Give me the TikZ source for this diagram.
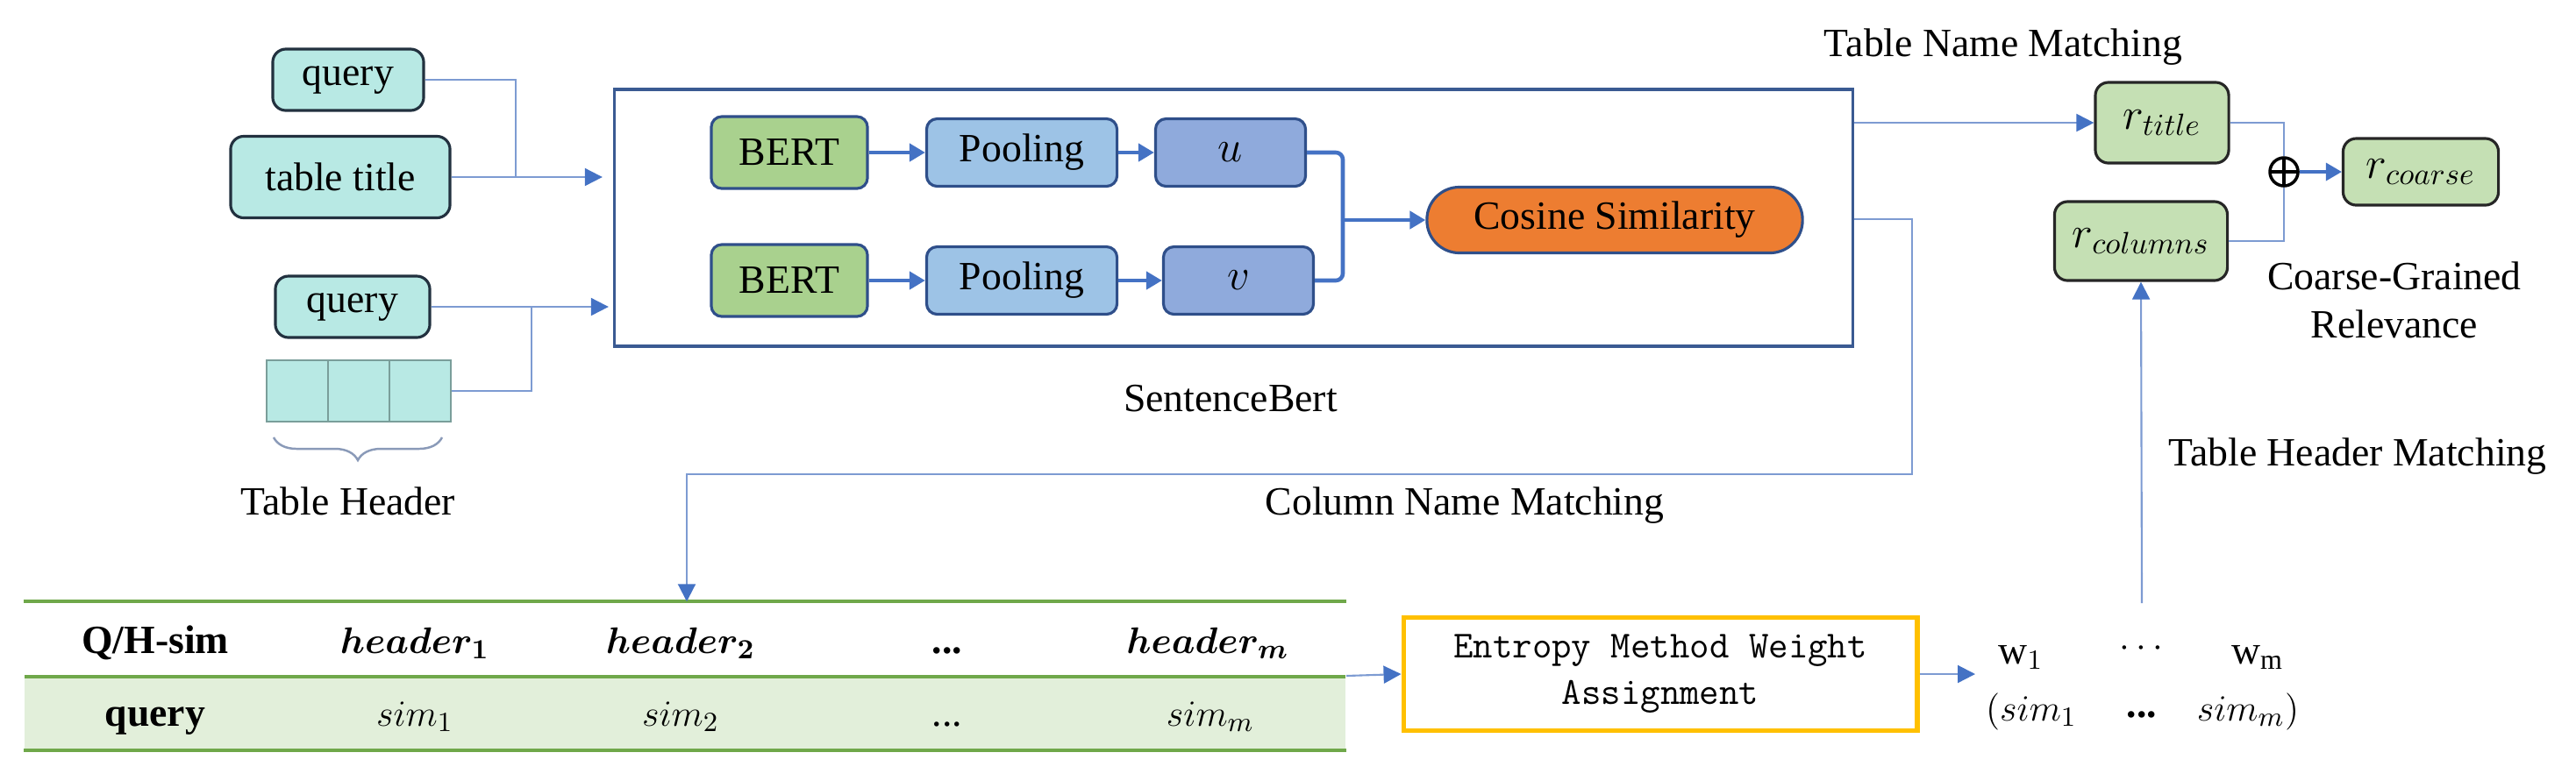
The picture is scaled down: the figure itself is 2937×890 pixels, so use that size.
\documentclass[tikz,border=0pt]{standalone}
\usepackage{fontspec}
\setmainfont{Liberation Serif}
\usepackage{amsmath}
\usepackage{bm}
\usetikzlibrary{arrows.meta,decorations.pathreplacing,calc}
\definecolor{cyanf}{HTML}{B8E9E4}
\definecolor{qborder}{HTML}{22313F}
\definecolor{hborder}{HTML}{7A9E9A}
\definecolor{bertf}{HTML}{A9D18E}
\definecolor{poolf}{HTML}{9DC3E6}
\definecolor{uvf}{HTML}{8FAADC}
\definecolor{navy}{HTML}{2F4F8A}
\definecolor{cosf}{HTML}{ED7D31}
\definecolor{sbborder}{HTML}{3A5A92}
\definecolor{linec}{HTML}{7D9BD2}
\definecolor{tipc}{HTML}{4472C4}
\definecolor{rf}{HTML}{C5E0B4}
\definecolor{tgreen}{HTML}{6FA84A}
\definecolor{rowf}{HTML}{E2EFDA}
\definecolor{gold}{HTML}{FFC000}
\definecolor{bracec}{HTML}{8A9AB8}
\begin{document}
\begin{tikzpicture}[x=0.01cm,y=-0.01cm,
  font=\fontsize{13}{15.6}\selectfont,
  every node/.style={inner sep=0pt},
  qbox/.style={draw=qborder, fill=cyanf, line width=0.9pt, rounded corners=0.15cm},
  hcell/.style={draw=hborder, fill=cyanf, line width=0.6pt, minimum width=0.70cm, minimum height=0.70cm},
  bertbox/.style={draw=navy, fill=bertf, line width=0.9pt, rounded corners=0.12cm, minimum width=1.78cm, minimum height=0.82cm},
  poolbox/.style={draw=navy, fill=poolf, line width=0.9pt, rounded corners=0.12cm, minimum width=2.17cm, minimum height=0.77cm},
  uvbox/.style={draw=navy, fill=uvf, line width=0.9pt, rounded corners=0.12cm, minimum width=1.71cm, minimum height=0.77cm, font=\fontsize{15}{18}\selectfont},
  cosbox/.style={draw=navy, fill=cosf, line width=0.9pt, rounded corners=0.37cm, minimum width=4.28cm, minimum height=0.75cm},
  rbox/.style={draw=black!85, fill=rf, line width=0.9pt, rounded corners=0.15cm, font=\fontsize{14.5}{17}\selectfont},
  oplus/.style={circle, draw=black, line width=1pt, minimum size=0.32cm,
    path picture={\draw[line width=1pt] (path picture bounding box.north) -- (path picture bounding box.south)
      (path picture bounding box.west) -- (path picture bounding box.east);}},
  entbox/.style={draw=gold, line width=1.6pt, minimum width=5.85cm, minimum height=1.29cm, align=center,
    font=\ttfamily\fontsize{12.4}{15}\selectfont},
  conn/.style={draw=linec, line width=0.6pt},
  arr/.style={conn, -{Triangle[length=0.2cm,width=0.2cm,color=tipc]}},
  tk/.style={draw=tipc, line width=1.3pt},
  tkarr/.style={tk, -{Triangle[length=0.18cm,width=0.2cm]}},
  tline/.style={draw=tgreen, line width=1.2pt}
]
\useasboundingbox (0,0) rectangle (2937,890);

% ---- inputs ----
\node[qbox, minimum width=1.72cm, minimum height=0.70cm] (q1) at (397,91) {query};
\node[qbox, minimum width=2.50cm, minimum height=0.93cm] (tt) at (388,202) {table title};
\node[qbox, minimum width=1.76cm, minimum height=0.70cm] (q2) at (402,350) {query};
\node[hcell] (hc1) at (339,446) {};
\node[hcell] (hc2) at (409,446) {};
\node[hcell] (hc3) at (479,446) {};
\coordinate (bl) at (312,499);
\coordinate (br) at (504,499);
\draw[draw=bracec, line width=0.7pt, decorate, decoration={brace, mirror, amplitude=0.26cm}] (bl) -- (br);
\node (thl) at (397,572) {Table Header};

% ---- SentenceBert ----
\node[draw=sbborder, line width=1pt, minimum width=14.11cm, minimum height=2.93cm] (sb) at (1406.5,248.5) {};
\node[bertbox] (b1) at (900,174) {BERT};
\node[bertbox] (b2) at (900,320) {BERT};
\node[poolbox] (p1) at (1165,174) {Pooling};
\node[poolbox] (p2) at (1165,320) {Pooling};
\node[uvbox] (u) at (1403,174) {$u$};
\node[uvbox] (v) at (1412,320) {$v$};
\node[cosbox] (cs) at (1841,251) {Cosine Similarity};
\node (sbl) at (1403,455) {SentenceBert};

\draw[tkarr] (b1.east) -- (p1.west);
\draw[tkarr] (p1.east) -- (u.west);
\draw[tkarr] (b2.east) -- (p2.west);
\draw[tkarr] (p2.east) -- (v.west);
\coordinate (jm) at (1531,251);
\draw[tk, rounded corners=0.08cm] (u.east) -| (jm);
\draw[tk, rounded corners=0.08cm] (v.east) -| (jm);
\draw[tkarr] (jm) -- (cs.west);

% input connectors
\coordinate (j1) at (588,202);
\draw[conn] (q1.east) -| (j1);
\draw[arr, shorten >=0.12cm] (tt.east) -- (tt.east -| sb.west);
\coordinate (j2) at (606,350);
\draw[conn] (hc3.east) -| (j2);
\draw[arr, shorten >=0.05cm] (q2.east) -- (q2.east -| sb.west);

% ---- right side ----
\node (tnm) at (2284,54) {Table Name Matching};
\node[rbox, minimum width=1.52cm, minimum height=0.92cm] (rt) at (2465,140) {$r_{title}$};
\node[rbox, minimum width=1.97cm, minimum height=0.90cm] (rcl) at (2441,275) {$r_{columns}$};
\node[rbox, minimum width=1.77cm, minimum height=0.76cm] (rco) at (2760,196) {$r_{coarse}$};
\node[oplus] (op) at (2604,196) {};
\node[align=center] (cgr) at (2730,342) {Coarse-Grained\\Relevance};
\node (thmt) at (2688,521) {Table Header Matching};

\draw[arr] (sb.east |- rt.west) -- (rt.west);
\draw[conn] (rt.east) -| (op.north);
\draw[conn] (rcl.east) -| (op.south);
\draw[tk, line width=1pt, -{Triangle[length=0.18cm,width=0.2cm]}] (op.east) -- (rco.west);

% ---- table ----
\node[minimum width=15.06cm, minimum height=1.68cm] (tbl) at (781,771) {};
\fill[rowf] (28,772) rectangle (1534,855);
\draw[tline] (tbl.north west) -- (tbl.north east);
\draw[tline] (28,772) -- (1534,772);
\draw[tline] (tbl.south west) -- (tbl.south east);
\node[anchor=base] (c0) at (177,745) {\textbf{Q/H-sim}};
\node[anchor=base] (c1) at (473,745) {$\bm{header_1}$};
\node[anchor=base] (h2) at (776,745) {$\bm{header_2}$};
\node[anchor=base] (c3) at (1080,745) {\textbf{...}};
\node[anchor=base] (c4) at (1377,745) {$\bm{header_m}$};
\node[anchor=base] (d0) at (177,828) {\textbf{query}};
\node[anchor=base] (d1) at (473,828) {$sim_1$};
\node[anchor=base] (d2) at (776,828) {$sim_2$};
\node[anchor=base] (d3) at (1080,828) {...};
\node[anchor=base] (d4) at (1380,828) {$sim_m$};
\node (cnm) at (1670,577) {Column Name Matching};

\coordinate (k1) at (2180,250);
\coordinate (k2) at (783,541);
\draw[arr] (sb.east |- k1) -- (k1) |- (k2) -- (k2 |- tbl.north);

% ---- entropy ----
\node[entbox] (ent) at (1893,769) {Entropy Method Weight\\Assignment};
\draw[arr] (tbl.east) -- (ent.west);
\coordinate (wtip) at (2252,769);
\draw[arr] (ent.east) -- (wtip);
\node (w1) at (2304,750) {$\mathrm{w}_1$};
\node (wd) at (2445,740) {$\cdots$};
\node (wm) at (2574,750) {$\mathrm{w}_{\mathrm{m}}$};
\node (s1) at (2316,812) {$(sim_1$};
\node (sd) at (2442,815) {\textbf{...}};
\node (sm) at (2563,812) {$sim_m)$};

\coordinate (vb) at (2442,688);
\draw[arr] (vb) -- (rcl.south);
\end{tikzpicture}
\end{document}
